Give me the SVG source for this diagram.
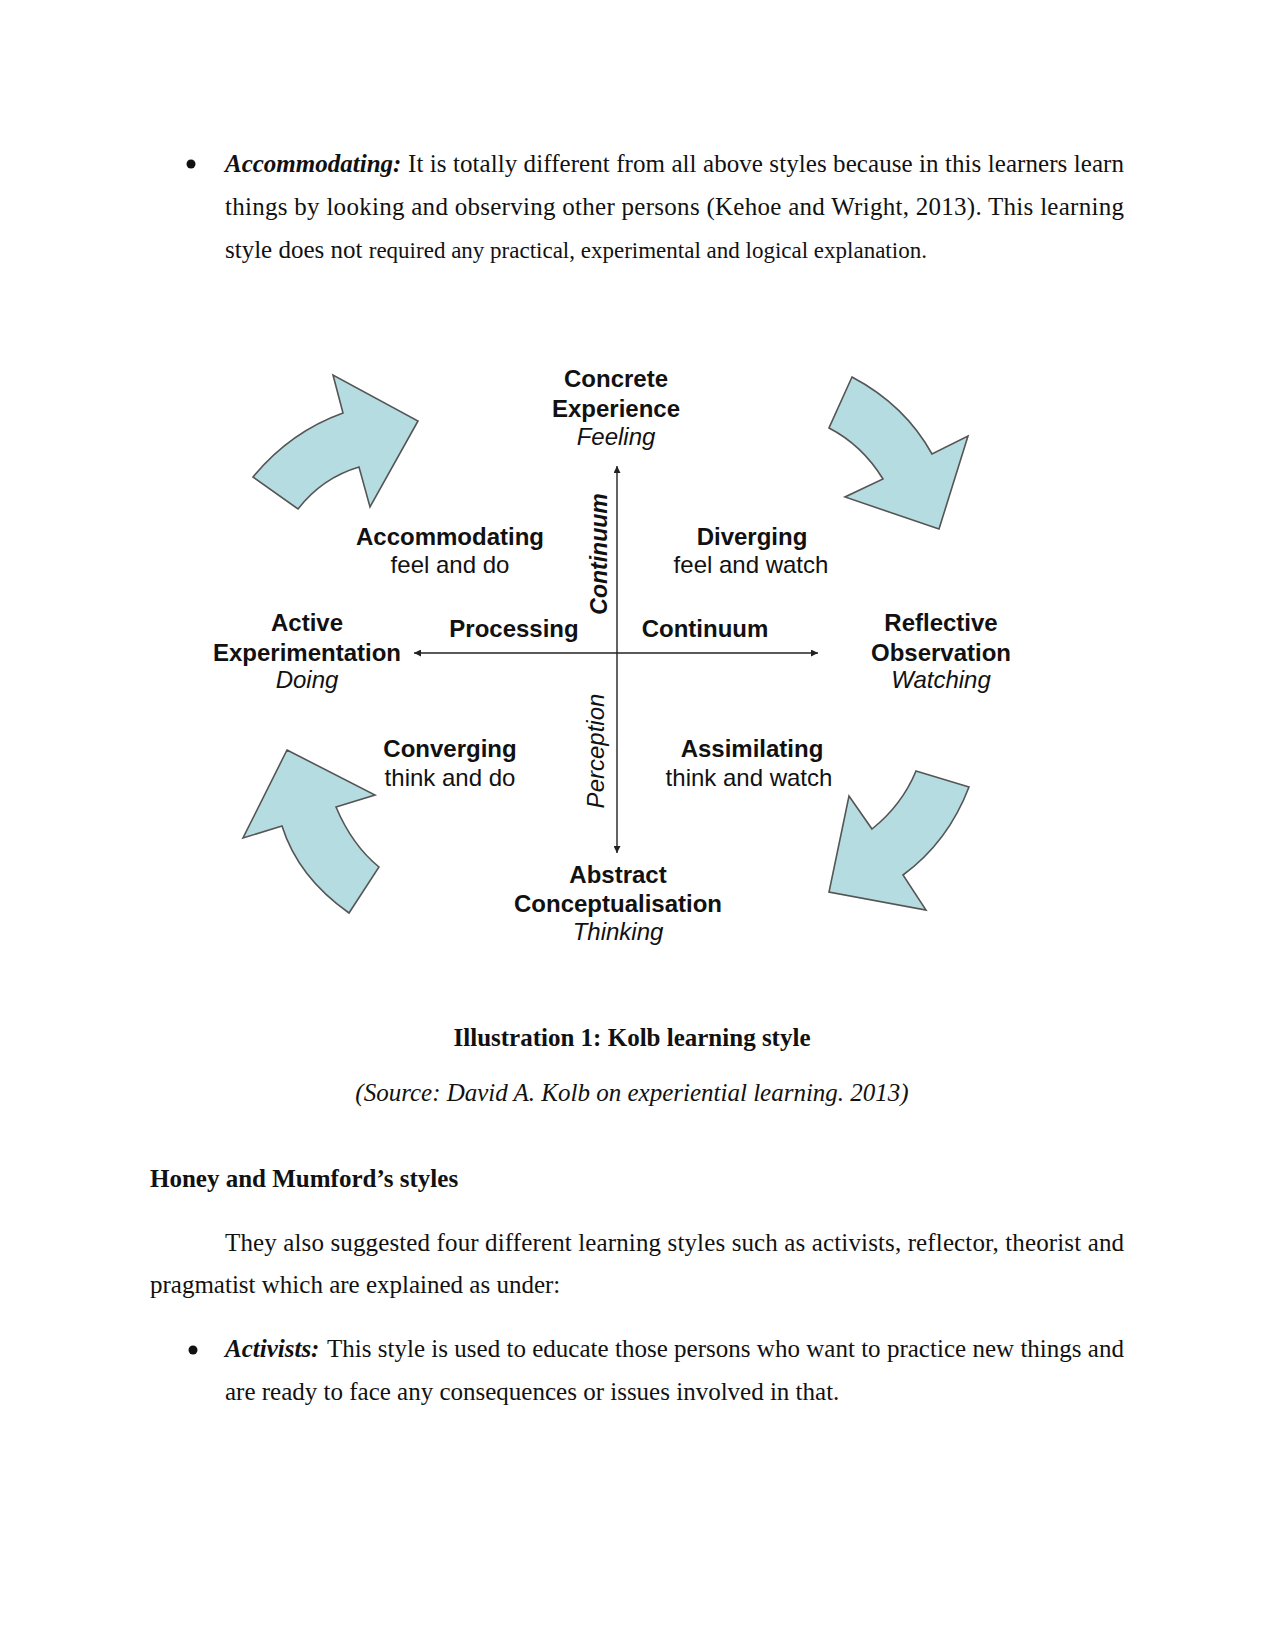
<svg xmlns="http://www.w3.org/2000/svg" width="1275" height="1650" viewBox="0 0 1275 1650">
<defs>
<style>
.body{font-family:"Liberation Serif","Times New Roman",serif;font-size:25px;fill:#111}
.bi{font-weight:bold;font-style:italic}
.b{font-weight:bold}
.it{font-style:italic}
.lbl{font-family:"Liberation Sans",Arial,sans-serif;font-size:24px;fill:#111;text-anchor:middle}
.ax{stroke:#222;stroke-width:1.4;fill:none}
.cyc{fill:#b5dce0;stroke:#555;stroke-width:1.6;stroke-linejoin:miter}
</style>
<marker id="ah" viewBox="0 0 10 10" refX="10" refY="5" markerWidth="7" markerHeight="7" markerUnits="userSpaceOnUse" orient="auto-start-reverse">
<path d="M0,0 L10,5 L0,10 Z" fill="#222"/>
</marker>
</defs>
<rect width="1275" height="1650" fill="#fff"/>

<g id="para1">
<circle cx="191" cy="164" r="4.5" fill="#111"/>
<text class="body bi" x="225" y="172">Accommodating:</text>
<text class="body" x="408" y="172" textLength="716" lengthAdjust="spacing">It is totally different from all above styles because in this learners learn</text>
<text class="body" x="225" y="215" textLength="899" lengthAdjust="spacing">things by looking and observing other persons (Kehoe and Wright, 2013). This learning</text>
<text class="body" x="225" y="258">style does not <tspan style="font-size:23px">required any practical, experimental and logical explanation.</tspan></text>
</g>

<g id="connectors">
<line class="ax" x1="617" y1="466" x2="617" y2="853" marker-start="url(#ah)" marker-end="url(#ah)"/>
<line class="ax" x1="414" y1="653" x2="818" y2="653" marker-start="url(#ah)" marker-end="url(#ah)"/>
</g>

<g id="cycle-arrows">
<path id="arrow-tl" class="cyc" d="M253,477 Q290,432 343,413 L333,375 L418,421 L370,507 L359,467 Q322,478 298,509 Z"/>
<path id="arrow-tr" class="cyc" d="M852,377 Q905,405 932,454 L968,436 L939,529 L845,497 L883,479 Q862,445 829,428 Z"/>
<path id="arrow-br" class="cyc" d="M916,771 L969,787 Q948,842 903,875 L926,910 L829,892 L849,796 L872,829 Q902,805 916,771 Z"/>
<path id="arrow-bl" class="cyc" d="M287,750 L375,795 L336,807 Q352,845 379,867 L349,913 Q298,877 282,826 L243,838 Z"/>
</g>

<g id="node-concrete">
<text class="lbl b" x="616" y="387">Concrete</text>
<text class="lbl b" x="616" y="417">Experience</text>
<text class="lbl it" x="616" y="445">Feeling</text>
</g>
<g id="node-reflective">
<text class="lbl b" x="941" y="631">Reflective</text>
<text class="lbl b" x="941" y="661">Observation</text>
<text class="lbl it" x="941" y="688">Watching</text>
</g>
<g id="node-abstract">
<text class="lbl b" x="618" y="883">Abstract</text>
<text class="lbl b" x="618" y="912">Conceptualisation</text>
<text class="lbl it" x="618" y="940">Thinking</text>
</g>
<g id="node-active">
<text class="lbl b" x="307" y="631">Active</text>
<text class="lbl b" x="307" y="661">Experimentation</text>
<text class="lbl it" x="307" y="688">Doing</text>
</g>
<g id="node-accommodating">
<text class="lbl b" x="450" y="545">Accommodating</text>
<text class="lbl" x="450" y="573">feel and do</text>
</g>
<g id="node-diverging">
<text class="lbl b" x="752" y="545">Diverging</text>
<text class="lbl" x="751" y="573">feel and watch</text>
</g>
<g id="node-converging">
<text class="lbl b" x="450" y="757">Converging</text>
<text class="lbl" x="450" y="786">think and do</text>
</g>
<g id="node-assimilating">
<text class="lbl b" x="752" y="757">Assimilating</text>
<text class="lbl" x="749" y="786">think and watch</text>
</g>
<g id="axis-labels">
<text class="lbl b" x="514" y="637">Processing</text>
<text class="lbl b" x="705" y="637">Continuum</text>
<text class="lbl b it" transform="translate(607,554) rotate(-90)" x="0" y="0" style="font-size:23px">Continuum</text>
<text class="lbl it" transform="translate(604,751) rotate(-90)" x="0" y="0">Perception</text>
</g>

<g id="caption">
<text class="body b" x="632" y="1046" text-anchor="middle">Illustration 1: Kolb learning style</text>
<text class="body it" x="632" y="1101" text-anchor="middle">(Source: David A. Kolb on experiential learning. 2013)</text>
</g>

<g id="section">
<text class="body b" x="150" y="1187">Honey and Mumford’s styles</text>
<text class="body" x="225" y="1251" textLength="899" lengthAdjust="spacing">They also suggested four different learning styles such as activists, reflector, theorist and</text>
<text class="body" x="150" y="1293">pragmatist which are explained as under:</text>
<circle cx="193" cy="1350" r="4.5" fill="#111"/>
<text class="body bi" x="225" y="1357">Activists:</text>
<text class="body" x="327" y="1357" textLength="797" lengthAdjust="spacing">This style is used to educate those persons who want to practice new things and</text>
<text class="body" x="225" y="1400">are ready to face any consequences or issues involved in that.</text>
</g>
</svg>
